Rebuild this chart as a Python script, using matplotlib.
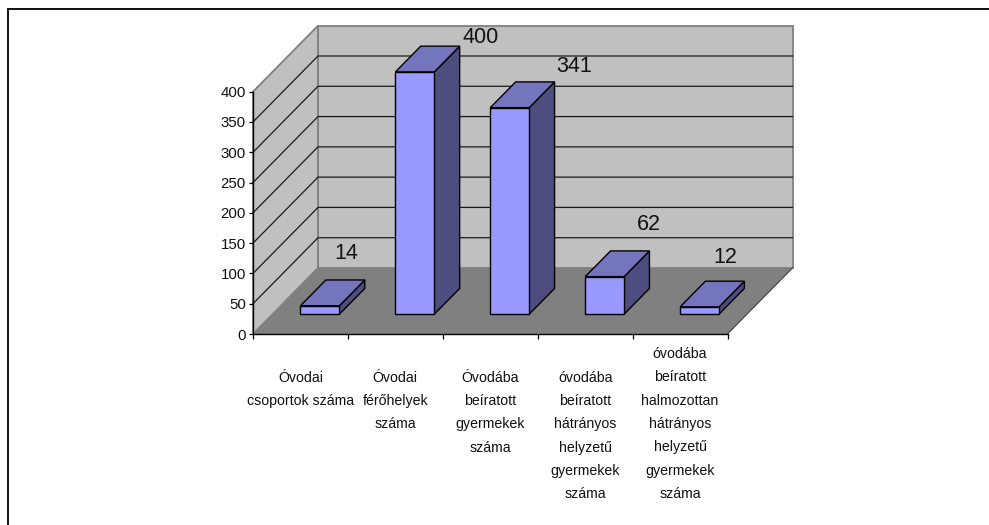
import matplotlib
matplotlib.use("Agg")
import matplotlib.pyplot as plt
from matplotlib.patches import Polygon
from matplotlib.lines import Line2D

plt.rcParams['font.family'] = ['Liberation Sans', 'DejaVu Sans']

categories = [
    "Óvodai\ncsoportok száma",
    "Óvodai\nférőhelyek\nszáma",
    "Óvodába\nbeíratott\ngyermekek\nszáma",
    "óvodába\nbeíratott\nhátrányos\nhelyzetű\ngyermekek\nszáma",
    "óvodába\nbeíratott\nhalmozottan\nhátrányos\nhelyzetű\ngyermekek\nszáma",
]
values = [14, 400, 341, 62, 12]
y_ticks = [0, 50, 100, 150, 200, 250, 300, 350, 400]

# Layout (pixels in a 989x525 figure)
W, H = 989, 525
X0, X1, Y0, Y1 = 253.0, 727.5, 334.0, 91.7
DEPTH_PX = (65.0, 66.0)
label_offsets = [(26, 52.7), (66, 34), (64.5, 40.7), (44, 52.2), (26, 49.5)]

fig = plt.figure(figsize=(W / 100, H / 100), dpi=100, facecolor='white')
ax = fig.add_axes([X0 / W, 1 - Y0 / H, (X1 - X0) / W, (Y0 - Y1) / H])
ax.set_xlim(0, len(values))
ax.set_ylim(0, 400)
ax.patch.set_visible(False)

DX = DEPTH_PX[0] / ((X1 - X0) / len(values))
DY = DEPTH_PX[1] / ((Y0 - Y1) / 400)


def P(c, v, d):
    """Oblique projection: category position, value, depth 0..1 -> axes data."""
    return (c + d * DX, v + d * DY)


n = len(values)
vmax = y_ticks[-1]
WALL, FLOOR, EDGE = '#C0C0C0', '#808080', '#808080'

# walls and floor
ax.add_patch(Polygon([P(0, 0, 1), P(n, 0, 1), P(n, vmax, 1), P(0, vmax, 1)],
                     fc=WALL, ec=EDGE, lw=1.3, clip_on=False, zorder=1))
ax.add_patch(Polygon([P(0, 0, 0), P(0, 0, 1), P(0, vmax, 1), P(0, vmax, 0)],
                     fc=WALL, ec=EDGE, lw=1.3, clip_on=False, zorder=1))
ax.add_patch(Polygon([P(0, 0, 0), P(n, 0, 0), P(n, 0, 1), P(0, 0, 1)],
                     fc=FLOOR, ec='none', clip_on=False, zorder=1.5))
fl = [P(n, 0, 0), P(n, 0, 1)]
ax.plot(*zip(*fl), color='#303030', lw=0.7, clip_on=False, zorder=1.6)

# gridlines
for t in y_ticks[1:-1]:
    pts = [P(0, t, 0), P(0, t, 1), P(n, t, 1)]
    ax.plot(*zip(*pts), color='#1a1a1a', lw=0.9, clip_on=False, zorder=2,
            solid_joinstyle='miter')

# bars
W_BAR, D0, D1 = 0.41, 0.30, 0.69
FRONT, TOP, SIDE = '#9999FF', '#7575BE', '#4D4D80'
for i, v in enumerate(values):
    l, r = i + 0.5 - W_BAR / 2, i + 0.5 + W_BAR / 2
    st = dict(ec='black', lw=1.0, clip_on=False, zorder=3, joinstyle='miter')
    ax.add_patch(Polygon([P(r, 0, D0), P(r, 0, D1), P(r, v, D1), P(r, v, D0)], fc=SIDE, **st))
    ax.add_patch(Polygon([P(l, v, D0), P(r, v, D0), P(r, v, D1), P(l, v, D1)], fc=TOP, **st))
    ax.add_patch(Polygon([P(l, 0, D0), P(r, 0, D0), P(r, v, D0), P(l, v, D0)], fc=FRONT, **st))
    ax.annotate(str(v), xy=P(i + 0.5, v, D0), xytext=label_offsets[i],
                textcoords='offset pixels', ha='center', va='center',
                fontsize=15.5, color='#111111', zorder=5, annotation_clip=False)

# axes
for s in ('top', 'right'):
    ax.spines[s].set_visible(False)
for s in ('left', 'bottom'):
    ax.spines[s].set_linewidth(1.0)
    ax.spines[s].set_zorder(4)
ax.set_yticks(y_ticks)
ax.set_xticks(range(n + 1))
ax.set_xticklabels([])
ax.tick_params(axis='y', length=3, width=0.9, pad=2.2, labelsize=10.8, labelcolor='#111111')
ax.tick_params(axis='x', length=3.5, width=0.9)

# category labels
LINE_H = 23.4
for i, c in enumerate(categories):
    nlines = c.count('\n') + 1
    top_px = 370.5 if nlines < 7 else 370.5 - LINE_H
    ax.annotate(c, xy=(i + 0.5, 0), xytext=(0, -(top_px - Y0)),
                textcoords='offset pixels', ha='center', va='top',
                multialignment='center', fontsize=10.2, linespacing=1.85,
                color='#111111', annotation_clip=False)

# outer frame (top and left only)
fy = 1 - 9 / H
fx = 8.2 / W
fig.add_artist(Line2D([fx, fx], [0, fy], transform=fig.transFigure, color='#111111', lw=1.4))
fig.add_artist(Line2D([fx, 1], [fy, fy], transform=fig.transFigure, color='#111111', lw=1.4))

fig.savefig('out.png', dpi=100, facecolor='white')
